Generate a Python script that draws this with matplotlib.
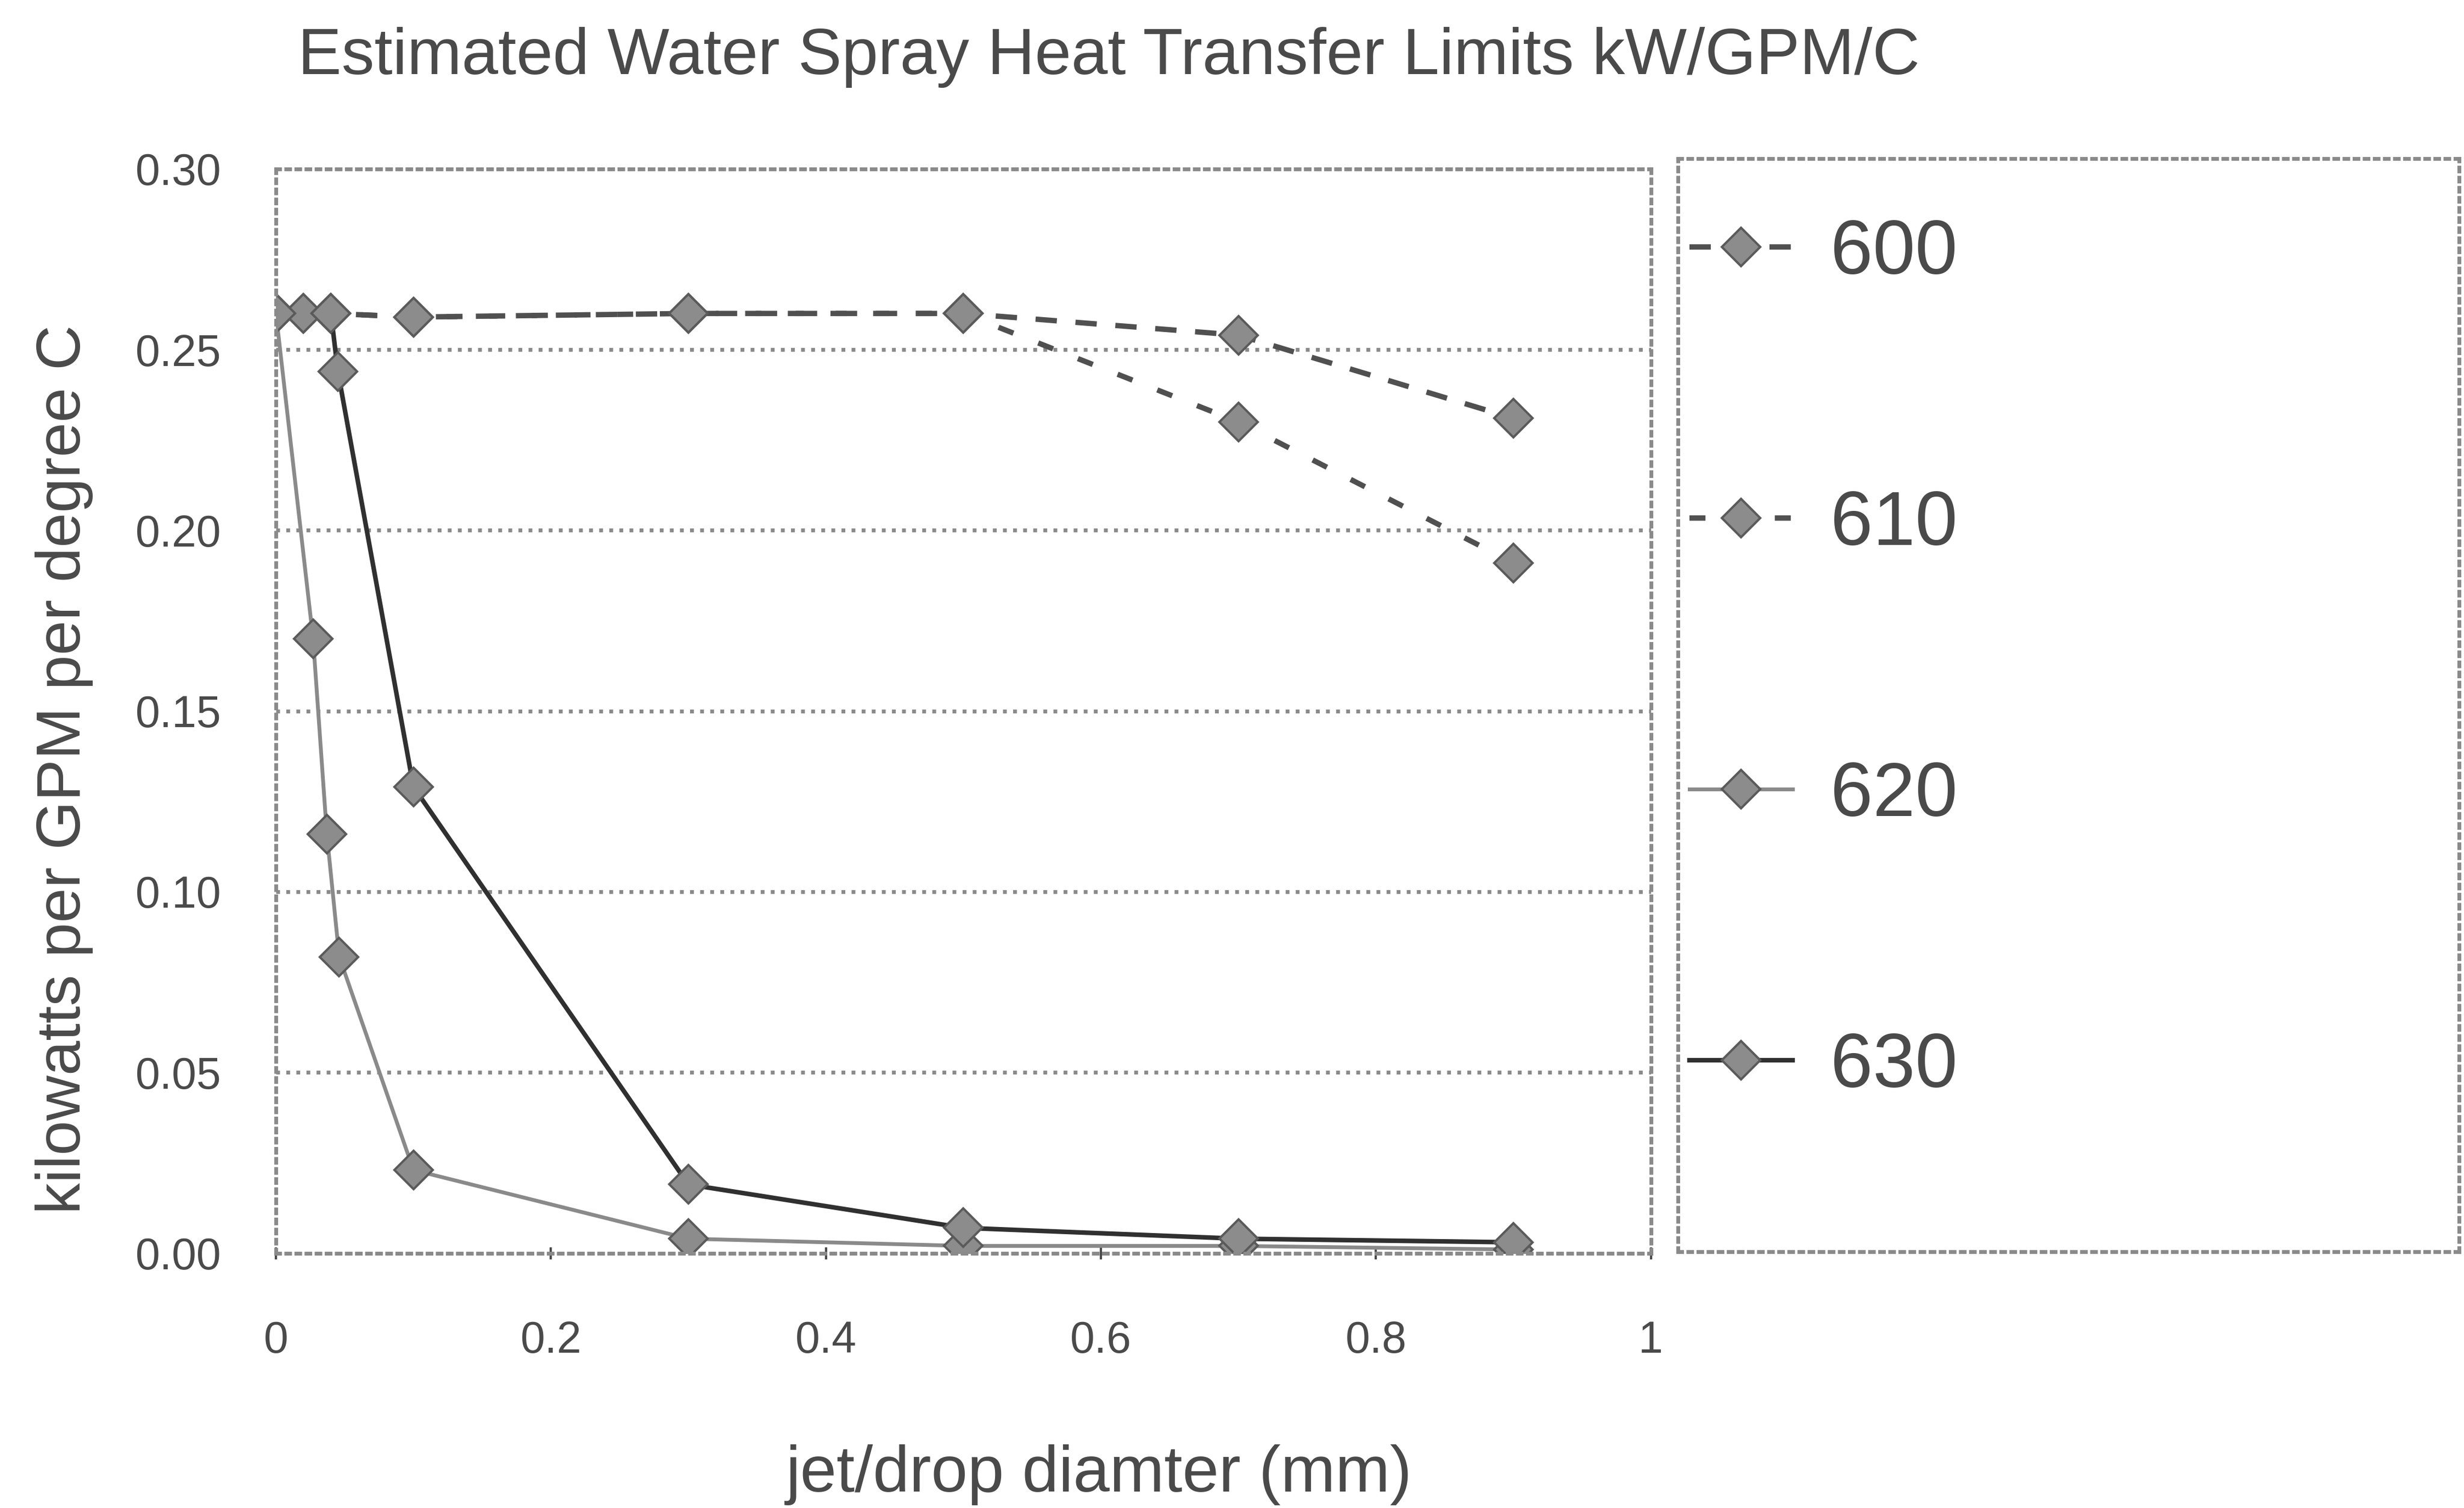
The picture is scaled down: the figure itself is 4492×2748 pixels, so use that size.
import matplotlib.pyplot as plt

plt.rcParams['font.family'] = ['Liberation Sans', 'DejaVu Sans']

# values
x_600 = [0.0, 0.02, 0.04, 0.1, 0.3, 0.5, 0.7, 0.9]
y_600 = [0.260, 0.260, 0.260, 0.259, 0.260, 0.260, 0.254, 0.231]

x_610 = [0.0, 0.02, 0.04, 0.1, 0.3, 0.5, 0.7, 0.9]
y_610 = [0.260, 0.260, 0.260, 0.259, 0.260, 0.260, 0.230, 0.191]

x_620 = [0.0, 0.027, 0.037, 0.046, 0.1, 0.3, 0.5, 0.7, 0.9]
y_620 = [0.260, 0.170, 0.116, 0.082, 0.023, 0.004, 0.002, 0.002, 0.001]

x_630 = [0.04, 0.045, 0.1, 0.3, 0.5, 0.7, 0.9]
y_630 = [0.260, 0.244, 0.129, 0.019, 0.007, 0.004, 0.003]

series_names = ['600', '610', '620', '630']
x_ticks = [0, 0.2, 0.4, 0.6, 0.8, 1]
x_tick_labels = ['0', '0.2', '0.4', '0.6', '0.8', '1']
y_ticks = [0.00, 0.05, 0.10, 0.15, 0.20, 0.25, 0.30]

txt = '#4a4a4a'
grid_c = '#8a8a8a'

fig = plt.figure(figsize=(22.46, 13.74), dpi=200)
ax = fig.add_axes([0.112, 0.169, 0.558, 0.719])

mk = dict(marker='D', markersize=18, markerfacecolor='#8c8c8c',
          markeredgecolor='#5a5a5a', markeredgewidth=1.5)

l600, = ax.plot(x_600, y_600, color='#505050', lw=3.5, dashes=(4, 3.5), **mk)
l610, = ax.plot(x_610, y_610, color='#505050', lw=3.5, dashes=(3, 5), **mk)
l620, = ax.plot(x_620, y_620, color='#8a8a8a', lw=2.5, **mk)
l630, = ax.plot(x_630, y_630, color='#303030', lw=3.0, **mk)

ax.set_xlim(0, 1)
ax.set_ylim(0, 0.30)
ax.set_xticks(x_ticks)
ax.set_xticklabels(x_tick_labels)
ax.set_yticks(y_ticks)
ax.set_yticklabels(['%.2f' % v for v in y_ticks])
ax.tick_params(axis='x', labelsize=29, colors=txt, pad=40, length=8,
               direction='inout', width=1.5)
ax.tick_params(axis='y', labelsize=29, colors=txt, pad=36, length=0)
ax.yaxis.grid(True, linestyle=':', color=grid_c, lw=2.5)
for s in ax.spines.values():
    s.set_linestyle(':')
    s.set_color(grid_c)
    s.set_linewidth(2.5)

fig.text(0.45, 0.962, 'Estimated Water Spray Heat Transfer Limits kW/GPM/C',
         ha='center', va='center', fontsize=43, color=txt)
fig.text(0.446, 0.022, 'jet/drop diamter (mm)', ha='center', va='center',
         fontsize=43, color=txt)
fig.text(0.026, 0.49, 'kilowatts per GPM per degree C', ha='center',
         va='center', rotation=90, fontsize=41, color=txt)

# legend box on the right
lax = fig.add_axes([0.681, 0.170, 0.317, 0.725])
lax.set_xticks([])
lax.set_yticks([])
for s in lax.spines.values():
    s.set_linestyle(':')
    s.set_color(grid_c)
    s.set_linewidth(2.5)

handles = [l600, l610, l620, l630]
leg = lax.legend(handles, series_names, loc='upper left',
                 bbox_to_anchor=(0.005, 0.952), frameon=False, fontsize=50,
                 labelspacing=2.62, handlelength=1.35, handletextpad=0.5,
                 borderpad=0.1, borderaxespad=0.0, labelcolor=txt)

fig.savefig('out.png', dpi=200)
